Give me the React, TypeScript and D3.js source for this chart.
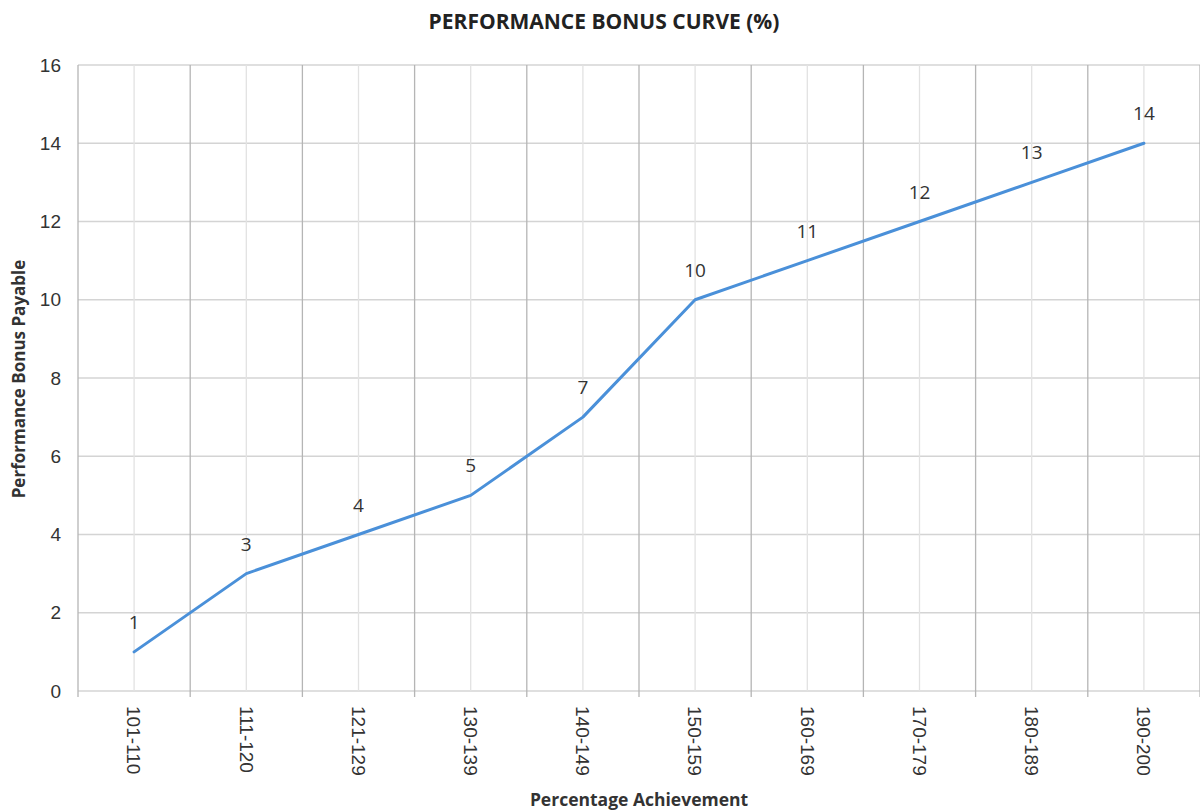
import React from "react";
import * as d3 from "d3";

const categories = ["101-110", "111-120", "121-129", "130-139", "140-149", "150-159", "160-169", "170-179", "180-189", "190-200"];
const bonusValues = [1, 3, 4, 5, 7, 10, 11, 12, 13, 14];
const yTicks = [0, 2, 4, 6, 8, 10, 12, 14, 16];

const W = 1200;
const H = 812;
const M = { left: 78, right: 0, top: 65, bottom: 121 };

export default function App() {
  const x = d3.scaleBand<string>().domain(categories).range([M.left, W - M.right]).padding(0);
  const y = d3.scaleLinear().domain([0, 16]).range([H - M.bottom, M.top]);
  const cx = (c: string) => (x(c) as number) + x.bandwidth() / 2;
  const line = d3.line<number>().x((_, i) => cx(categories[i])).y((d) => y(d));
  const boundaries = categories.map((c) => x(c) as number).concat([(x(categories[categories.length - 1]) as number) + x.bandwidth()]);
  const y0 = y(0);
  return (
    <svg width={W} height={H} style={{ position: "absolute", left: 0, top: 0, background: "#fff" }}>
      <rect x={0} y={0} width={W} height={H} fill="#fff" />
      <text x={604} y={29} textAnchor="middle" fontFamily="Open Sans, Lato, sans-serif" fontWeight={700} fontSize={21} fill="#222">
        PERFORMANCE BONUS CURVE (%)
      </text>
      {/* horizontal gridlines */}
      {yTicks.map((t) => (
        <line key={"h" + t} x1={M.left} x2={W} y1={y(t)} y2={y(t)} stroke="#d4d4d4" strokeWidth={1.3} />
      ))}
      {/* center gridlines (lighter) */}
      {categories.map((c) => (
        <line key={"c" + c} x1={cx(c)} x2={cx(c)} y1={M.top} y2={y0} stroke="#e2e2e2" strokeWidth={1.3} />
      ))}
      {/* boundary gridlines */}
      {boundaries.map((b, i) => (
        <line key={"b" + i} x1={b} x2={b} y1={M.top} y2={y0 + 6} stroke="#b5b5b5" strokeWidth={1.3} />
      ))}
      {/* y tick labels */}
      {yTicks.map((t) => (
        <text key={"yt" + t} x={61} y={y(t)} dy="0.35em" textAnchor="end" fontFamily="Liberation Sans, Arial, sans-serif" fontSize={19} fill="#333">
          {t}
        </text>
      ))}
      {/* x category labels */}
      {categories.map((c) => (
        <text
          key={"xt" + c}
          transform={`translate(${cx(c)},${y0 + 15}) rotate(90)`}
          dy="0.35em"
          textAnchor="start"
          fontFamily="Liberation Sans, Arial, sans-serif"
          fontSize={19}
          fill="#333"
        >
          {c}
        </text>
      ))}
      {/* series line */}
      <path d={line(bonusValues) || ""} fill="none" stroke="#4a90d9" strokeWidth={3} strokeLinejoin="round" strokeLinecap="round" />
      {/* data labels */}
      {bonusValues.map((v, i) => (
        <text key={"dl" + i} x={cx(categories[i])} y={y(v) - 23} textAnchor="middle" fontFamily="Open Sans, Lato, sans-serif" fontSize={19} fill="#333">
          {v}
        </text>
      ))}
      {/* axis titles */}
      <text transform={`translate(25,${379}) rotate(-90)`} textAnchor="middle" fontFamily="Open Sans, Lato, sans-serif" fontWeight={700} fontSize={17} fill="#333">
        Performance Bonus Payable
      </text>
      <text x={639} y={806} textAnchor="middle" fontFamily="Open Sans, Lato, sans-serif" fontWeight={700} fontSize={17.5} fill="#333">
        Percentage Achievement
      </text>
    </svg>
  );
}
